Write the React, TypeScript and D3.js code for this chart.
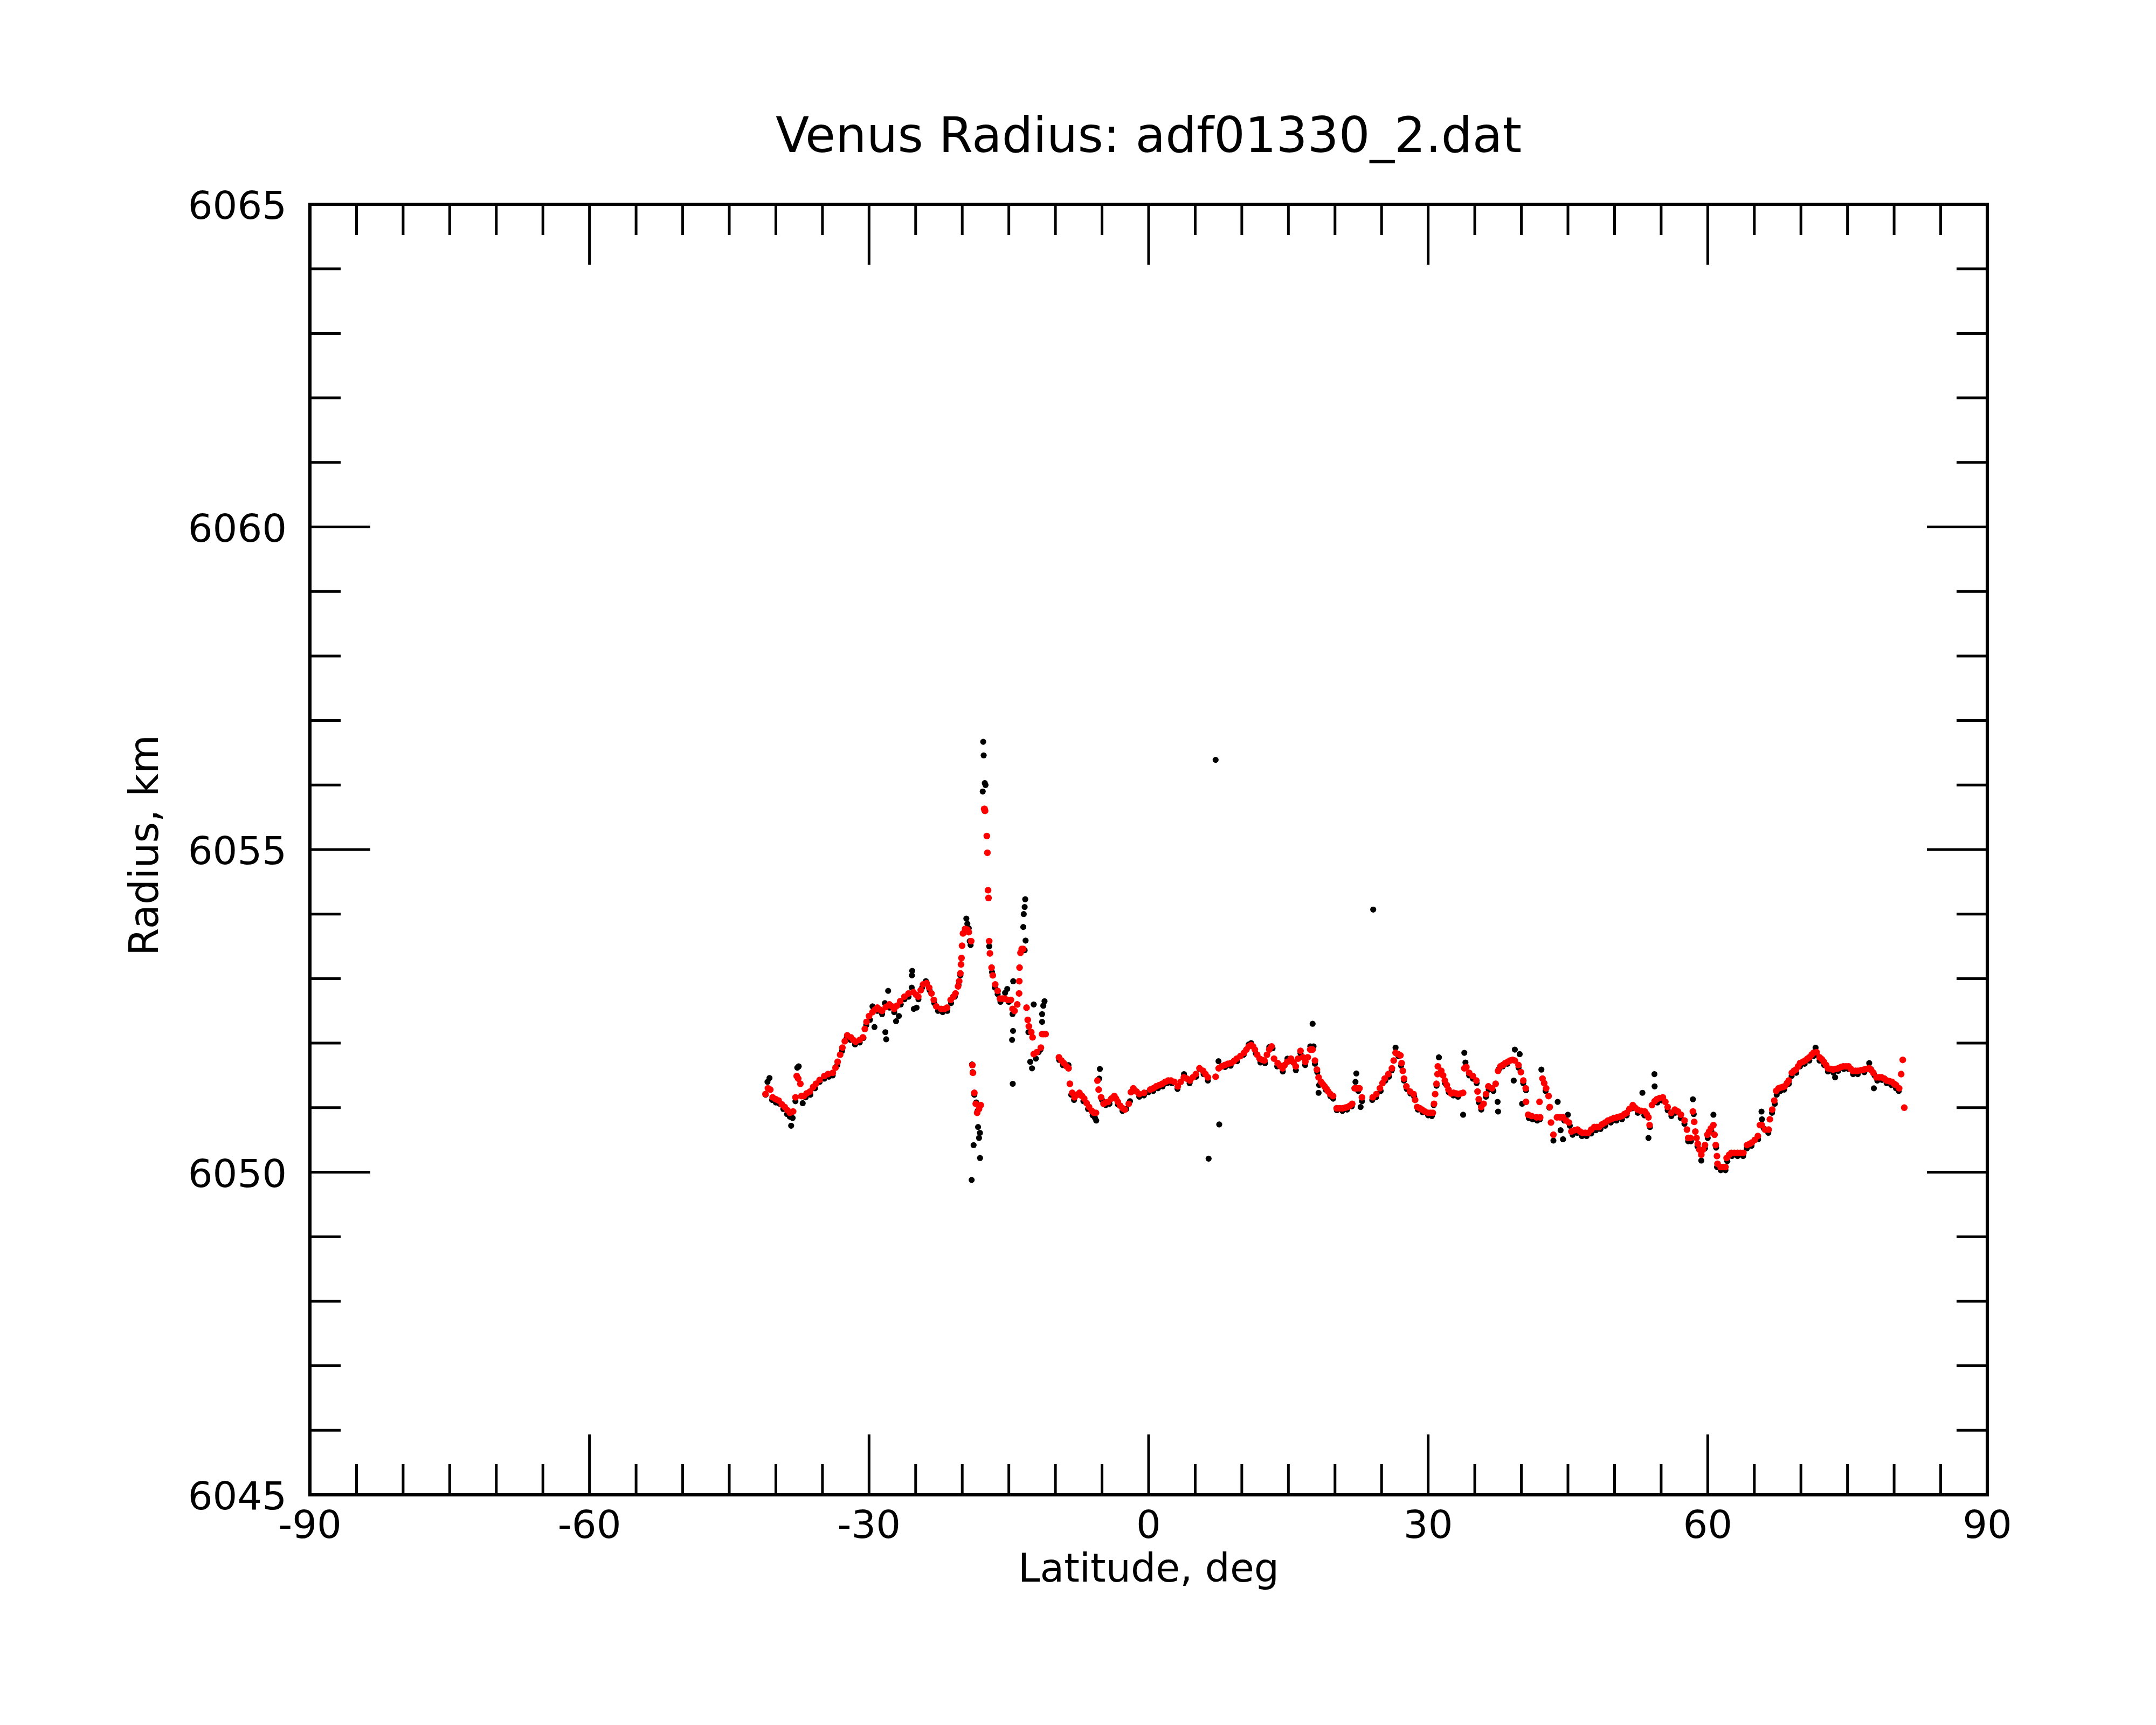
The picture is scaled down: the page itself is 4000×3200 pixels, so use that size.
import React from "react";
import * as d3 from "d3";

// ---- Data ----
const xTickValues = [-90, -60, -30, 0, 30, 60, 90];
const yTickValues = [6045, 6050, 6055, 6060, 6065];
const titleText = "Venus Radius: adf01330_2.dat";
const xLabelText = "Latitude, deg";
const yLabelText = "Radius, km";

// raw samples (black)
const rawLat = [
  -41.1, -40.9, -40.68, -40.4, -40.0, -39.6, -39.2, -38.8, -38.5, -38.36, -38.2, -37.9, -37.7, -37.55, -37.12, -36.8, -36.3, -35.8, -35.3, -34.8,
  -34.3, -33.9, -33.4, -32.9, -32.4, -32.0, -31.5, -31.0, -30.6, -30.3, -29.9, -29.63, -29.42, -29.1, -28.6, -28.3, -28.16, -28.25, -27.95, -27.8,
  -27.3, -27.1, -26.8, -26.6, -26.2, -25.76, -25.37, -25.4, -25.42, -25.2, -24.9, -24.7, -24.3, -23.9, -23.5, -23.0, -22.6, -22.1, -21.6, -21.2,
  -20.8, -20.4, -20.2, -19.9, -19.56, -19.45, -19.3, -19.2, -19.1, -18.95, -18.88, -18.7, -18.5, -18.35, -18.3, -18.1, -18.2, -18.78, -18.09, -18.99,
  -17.8, -17.75, -17.7, -17.58, -17.5, -17.6, -17.1, -16.8, -16.5, -16.2, -15.9, -15.17, -15.4, -15.0, -14.53, -14.6, -14.45, -14.55, -14.65, -14.58,
  -13.24, -13.3, -13.4, -13.45, -13.2, -13.3, -12.33, -11.17, -11.3, -11.43, -11.43, -12.9, -12.7, -12.51, -12.1, -11.8, -11.6, -9.6, -9.2, -8.6,
  -8.3, -8.0, -7.5, -7.0, -6.5, -6.0, -5.75, -5.62, -5.23, -5.3, -5.0, -4.6, -4.2, -3.7, -3.3, -2.8, -2.4, -2.0, -1.6, -1.0,
  -0.5, 0.0, 0.5, 1.0, 1.5, 2.0, 2.5, 3.1, 3.8, 4.4, 5.1, 5.46, 5.9, 6.36, 6.44, 7.19, 7.58, 7.5, 8.2, 8.8,
  9.5, 10.2, 10.75, 11.0, 11.5, 12.0, 12.5, 12.95, 13.3, 13.8, 14.4, 14.9, 15.3, 15.8, 16.3, 16.8, 17.35, 17.6, 17.7, 17.85,
  18.1, 18.24, 18.3, 18.6, 19.0, 19.5, 19.8, 20.2, 20.8, 21.3, 21.8, 22.29, 22.2, 22.5, 22.75, 22.9, 24.1, 24.0, 24.4, 24.9,
  25.4, 25.8, 26.1, 26.5, 26.8, 27.1, 27.4, 27.7, 28.1, 28.5, 28.9, 29.4, 30.0, 30.4, 30.6, 30.9, 31.15, 31.4, 31.8, 32.2,
  32.7, 33.2, 33.75, 33.88, 34.0, 34.4, 34.8, 35.2, 35.45, 35.7, 36.2, 36.5, 37.0, 37.5, 37.45, 37.6, 38.0, 38.5, 39.18, 39.3,
  39.82, 39.7, 40.08, 40.2, 40.5, 40.8, 41.2, 41.7, 42.0, 42.15, 42.6, 43.0, 43.44, 43.9, 44.21, 44.47, 44.99, 44.6, 45.2, 45.5,
  46.0, 46.5, 47.0, 47.5, 48.0, 48.5, 49.0, 49.6, 50.2, 50.8, 51.3, 51.9, 52.5, 52.99, 53.2, 53.64, 53.8, 54.28, 54.3, 54.6,
  55.1, 55.7, 56.1, 56.5, 57.1, 57.5, 57.9, 58.2, 58.41, 58.5, 58.9, 59.31, 59.7, 60.0, 60.4, 60.61, 60.9, 61.0, 61.4, 61.9,
  62.1, 62.6, 63.2, 63.8, 64.2, 64.7, 65.4, 65.77, 65.82, 66.0, 66.5, 66.9, 67.2, 67.4, 67.8, 68.2, 68.7, 69.0, 69.5, 69.9,
  70.4, 70.9, 71.35, 71.57, 71.7, 72.0, 72.5, 72.9, 73.5, 73.67, 74.0, 74.6, 75.1, 75.6, 76.1, 76.8, 77.33, 77.5, 77.83, 77.9,
  78.2, 78.7, 79.2, 79.7, 80.2, 80.5,
];
const rawRadius = [
  6051.20, 6051.40, 6051.46, 6051.12, 6051.08, 6051.06, 6050.98, 6050.90, 6050.86, 6050.72, 6050.84, 6051.10, 6051.62, 6051.64, 6051.07, 6051.16, 6051.20, 6051.30, 6051.40, 6051.45,
  6051.48, 6051.50, 6051.66, 6051.88, 6052.08, 6052.05, 6051.98, 6052.01, 6052.08, 6052.28, 6052.36, 6052.57, 6052.25, 6052.50, 6052.45, 6052.62, 6052.06, 6052.17, 6052.81, 6052.55,
  6052.48, 6052.34, 6052.42, 6052.60, 6052.68, 6052.72, 6053.12, 6053.05, 6052.86, 6052.53, 6052.55, 6052.68, 6052.86, 6052.96, 6052.82, 6052.62, 6052.50, 6052.48, 6052.50, 6052.62,
  6052.72, 6052.90, 6053.05, 6053.70, 6053.93, 6053.85, 6053.78, 6053.58, 6053.52, 6051.67, 6051.55, 6051.20, 6051.08, 6050.95, 6050.70, 6050.61, 6050.53, 6050.42, 6050.22, 6049.88,
  6055.90, 6056.67, 6056.46, 6056.03, 6056.00, 6055.60, 6053.50, 6053.10, 6052.86, 6052.76, 6052.64, 6052.84, 6052.78, 6052.64, 6052.96, 6052.45, 6052.50, 6052.19, 6052.05, 6051.37,
  6054.23, 6054.11, 6054.00, 6053.80, 6053.59, 6053.44, 6052.60, 6052.65, 6052.58, 6052.45, 6052.33, 6052.17, 6051.71, 6051.61, 6051.76, 6051.86, 6051.90, 6051.74, 6051.66, 6051.66,
  6051.20, 6051.12, 6051.20, 6051.10, 6050.98, 6050.88, 6050.84, 6050.80, 6051.60, 6051.45, 6051.12, 6051.04, 6051.06, 6051.15, 6051.05, 6050.95, 6050.98, 6051.10, 6051.26, 6051.17,
  6051.19, 6051.24, 6051.26, 6051.30, 6051.33, 6051.38, 6051.38, 6051.29, 6051.52, 6051.38, 6051.48, 6051.60, 6051.52, 6051.42, 6050.21, 6056.39, 6050.74, 6051.72, 6051.63, 6051.65,
  6051.72, 6051.82, 6051.98, 6052.00, 6051.84, 6051.70, 6051.69, 6051.94, 6051.92, 6051.64, 6051.56, 6051.76, 6051.72, 6051.58, 6051.84, 6051.66, 6051.95, 6052.30, 6051.95, 6051.68,
  6051.55, 6051.23, 6051.35, 6051.38, 6051.28, 6051.18, 6051.14, 6050.96, 6050.95, 6050.97, 6051.02, 6051.53, 6051.40, 6051.26, 6051.01, 6051.10, 6054.07, 6051.12, 6051.16, 6051.26,
  6051.42, 6051.48, 6051.58, 6051.93, 6051.80, 6051.65, 6051.42, 6051.29, 6051.22, 6051.17, 6050.97, 6050.93, 6050.88, 6050.87, 6051.04, 6051.34, 6051.78, 6051.53, 6051.38, 6051.24,
  6051.19, 6051.17, 6050.89, 6051.85, 6051.70, 6051.50, 6051.45, 6051.38, 6051.08, 6050.97, 6051.17, 6051.28, 6051.26, 6050.94, 6051.09, 6051.60, 6051.64, 6051.68, 6051.42, 6051.90,
  6051.83, 6051.62, 6051.06, 6051.38, 6051.27, 6050.84, 6050.82, 6050.80, 6050.82, 6051.59, 6051.26, 6051.00, 6050.49, 6051.09, 6050.65, 6050.51, 6050.89, 6050.80, 6050.72, 6050.58,
  6050.61, 6050.56, 6050.56, 6050.60, 6050.65, 6050.67, 6050.72, 6050.77, 6050.80, 6050.82, 6050.88, 6050.99, 6050.92, 6051.23, 6050.88, 6050.53, 6050.70, 6051.52, 6051.33, 6051.08,
  6051.11, 6050.96, 6050.87, 6050.92, 6050.84, 6050.75, 6050.48, 6050.48, 6051.13, 6050.90, 6050.40, 6050.18, 6050.37, 6050.53, 6050.63, 6050.89, 6050.38, 6050.08, 6050.03, 6050.03,
  6050.17, 6050.25, 6050.25, 6050.25, 6050.37, 6050.41, 6050.51, 6050.94, 6050.82, 6050.68, 6050.61, 6050.92, 6051.06, 6051.20, 6051.26, 6051.28, 6051.37, 6051.49, 6051.54, 6051.64,
  6051.68, 6051.73, 6051.80, 6051.93, 6051.82, 6051.73, 6051.66, 6051.56, 6051.54, 6051.47, 6051.57, 6051.60, 6051.60, 6051.52, 6051.52, 6051.55, 6051.69, 6051.60, 6051.30, 6051.50,
  6051.42, 6051.43, 6051.38, 6051.35, 6051.30, 6051.26,
];

// filtered samples (red)
const fitLat = [
  -41.12, -40.85, -40.6, -40.35, -40.0, -39.7, -39.35, -39.05, -38.75, -38.5, -38.15, -37.89, -37.76, -37.6, -37.37, -37.25, -37.0, -36.7, -36.34, -36.0,
  -35.7, -35.3, -34.8, -34.4, -33.89, -33.6, -33.37, -33.1, -32.86, -32.6, -32.34, -31.95, -31.7, -31.44, -31.0, -30.66, -30.45, -30.27, -30.0, -29.63,
  -29.35, -29.11, -28.85, -28.6, -28.2, -27.82, -27.55, -27.3, -27.0, -26.66, -26.2, -25.76, -25.24, -24.95, -24.72, -24.45, -24.2, -23.82, -23.55, -23.3,
  -23.05, -22.79, -22.27, -21.9, -21.63, -21.24, -20.95, -20.72, -20.45, -20.33, -20.2, -20.13, -20.08, -20.02, -19.92, -19.69, -19.45, -19.3, -19.04, -18.91,
  -18.85, -18.7, -18.55, -18.4, -18.2, -18.01, -17.65, -17.6, -17.55, -17.36, -17.3, -17.23, -17.18, -17.11, -17.03, -16.85, -16.72, -16.46, -16.2, -15.95,
  -15.7, -15.43, -15.1, -14.78, -14.6, -14.39, -14.1, -13.9, -13.88, -13.85, -13.75, -13.62, -13.45, -13.1, -12.97, -12.85, -12.59, -12.45, -12.33, -12.0,
  -11.56, -11.43, -11.25, -11.05, -9.62, -9.35, -9.1, -8.8, -8.59, -8.45, -8.2, -7.95, -7.7, -7.42, -7.15, -6.91, -6.65, -6.39, -6.1, -5.87,
  -5.65, -5.49, -5.36, -5.1, -4.84, -4.6, -4.33, -4.0, -3.68, -3.5, -3.3, -3.05, -2.78, -2.55, -2.13, -1.9, -1.64, -1.3, -1.0, -0.48,
  0.17, 0.5, 0.81, 1.15, 1.46, 1.8, 2.1, 2.4, 2.75, 3.13, 3.45, 3.78, 4.1, 4.43, 4.75, 5.07, 5.46, 5.85, 6.1, 6.36,
  7.19, 7.52, 7.85, 8.17, 8.5, 8.82, 9.15, 9.46, 9.85, 10.24, 10.5, 10.75, 11.01, 11.2, 11.4, 11.65, 11.91, 12.2, 12.43, 12.7,
  12.95, 13.2, 13.46, 13.85, 14.1, 14.37, 14.6, 14.88, 15.27, 15.55, 15.79, 16.04, 16.3, 16.56, 16.82, 17.08, 17.34, 17.6, 17.85, 18.06,
  18.24, 18.5, 18.7, 18.89, 19.1, 19.27, 19.5, 19.79, 20.18, 20.5, 20.82, 21.1, 21.34, 21.6, 21.85, 22.11, 22.35, 22.63, 22.89, 24.05,
  24.44, 24.82, 25.1, 25.34, 25.73, 26.11, 26.3, 26.5, 26.76, 27.02, 27.15, 27.28, 27.41, 27.66, 28.05, 28.44, 28.6, 28.82, 29.1, 29.34,
  29.65, 29.99, 30.25, 30.5, 30.63, 30.75, 30.89, 31.0, 31.04, 31.41, 31.6, 31.79, 32.0, 32.18, 32.45, 32.72, 33.0, 33.24, 33.5, 33.75,
  33.88, 34.1, 34.4, 34.79, 35.17, 35.3, 35.43, 35.69, 35.95, 36.21, 36.46, 36.85, 37.24, 37.5, 37.75, 38.0, 38.27, 38.55, 38.79, 39.05,
  39.3, 39.69, 39.95, 40.21, 40.47, 40.5, 40.73, 41.11, 41.63, 42.02, 41.95, 42.27, 42.45, 42.66, 42.92, 43.05, 43.18, 43.44, 43.82, 44.15,
  44.47, 44.8, 45.11, 45.37, 45.7, 46.02, 46.3, 46.53, 46.85, 47.18, 47.5, 47.83, 48.1, 48.34, 48.65, 48.99, 49.3, 49.63, 49.95, 50.28,
  50.55, 50.79, 51.05, 51.31, 51.6, 51.96, 52.2, 52.47, 52.85, 53.25, 53.45, 53.64, 53.76, 54.02, 54.3, 54.54, 54.85, 55.18, 55.45, 55.7,
  56.09, 56.47, 56.8, 57.12, 57.51, 57.77, 57.9, 58.15, 58.41, 58.55, 58.67, 58.8, 58.93, 59.1, 59.31, 59.5, 59.7, 59.96, 60.15, 60.35,
  60.61, 60.73, 60.86, 60.99, 61.05, 61.38, 61.65, 61.9, 62.03, 62.3, 62.54, 62.85, 63.19, 63.5, 63.83, 64.22, 64.5, 64.74, 65.05, 65.38,
  65.6, 65.8, 66.15, 66.54, 66.67, 66.92, 67.14, 67.35, 67.6, 67.81, 68.05, 68.25, 68.5, 68.69, 69.03, 69.25, 69.47, 69.7, 69.91, 70.2,
  70.46, 70.7, 70.91, 71.15, 71.35, 71.68, 72.01, 72.25, 72.46, 72.7, 72.9, 73.2, 73.45, 73.75, 74.01, 74.3, 74.56, 74.85, 75.11, 75.35,
  75.56, 75.85, 76.11, 76.45, 76.77, 77.05, 77.33, 77.55, 77.77, 78.1, 78.4, 78.65, 78.95, 79.21, 79.5, 79.76, 80.0, 80.2, 80.54, 80.76,
  80.93, 81.09,
];
const fitRadius = [
  6051.21, 6051.30, 6051.28, 6051.16, 6051.13, 6051.11, 6051.05, 6051.01, 6050.96, 6050.92, 6050.94, 6051.16, 6051.49, 6051.45, 6051.37, 6051.18, 6051.18, 6051.22, 6051.25, 6051.32,
  6051.37, 6051.43, 6051.49, 6051.52, 6051.54, 6051.62, 6051.71, 6051.82, 6051.93, 6052.03, 6052.12, 6052.09, 6052.05, 6052.02, 6052.05, 6052.09, 6052.22, 6052.33, 6052.42, 6052.48,
  6052.52, 6052.55, 6052.52, 6052.50, 6052.56, 6052.60, 6052.57, 6052.53, 6052.58, 6052.65, 6052.72, 6052.77, 6052.79, 6052.75, 6052.72, 6052.82, 6052.91, 6052.93, 6052.86, 6052.77,
  6052.67, 6052.57, 6052.53, 6052.53, 6052.55, 6052.67, 6052.72, 6052.77, 6052.88, 6052.96, 6053.08, 6053.22, 6053.32, 6053.51, 6053.70, 6053.77, 6053.76, 6053.72, 6053.58, 6051.66,
  6051.54, 6051.23, 6051.06, 6050.92, 6050.98, 6051.04, 6055.63, 6055.63, 6055.60, 6055.21, 6054.95, 6054.37, 6054.25, 6053.58, 6053.39, 6053.17, 6053.05, 6052.91, 6052.81, 6052.69,
  6052.69, 6052.69, 6052.67, 6052.67, 6052.53, 6052.50, 6052.60, 6052.77, 6052.96, 6053.17, 6053.40, 6053.46, 6053.46, 6052.55, 6052.36, 6052.26, 6052.17, 6052.09, 6051.83, 6051.86,
  6051.93, 6052.14, 6052.14, 6052.14, 6051.78, 6051.73, 6051.69, 6051.64, 6051.61, 6051.37, 6051.23, 6051.16, 6051.20, 6051.23, 6051.18, 6051.14, 6051.07, 6051.01, 6050.95, 6050.92,
  6050.92, 6051.42, 6051.28, 6051.16, 6051.06, 6051.08, 6051.09, 6051.14, 6051.18, 6051.14, 6051.09, 6051.03, 6050.99, 6050.97, 6051.06, 6051.24, 6051.30, 6051.25, 6051.21, 6051.23,
  6051.28, 6051.30, 6051.33, 6051.35, 6051.37, 6051.40, 6051.42, 6051.42, 6051.40, 6051.33, 6051.40, 6051.47, 6051.45, 6051.42, 6051.47, 6051.52, 6051.61, 6051.57, 6051.52, 6051.47,
  6051.48, 6051.61, 6051.64, 6051.66, 6051.68, 6051.69, 6051.72, 6051.76, 6051.80, 6051.85, 6051.90, 6051.95, 6051.97, 6051.95, 6051.90, 6051.82, 6051.76, 6051.74, 6051.73, 6051.82,
  6051.90, 6051.95, 6051.76, 6051.69, 6051.65, 6051.61, 6051.66, 6051.71, 6051.76, 6051.70, 6051.64, 6051.76, 6051.88, 6051.78, 6051.71, 6051.78, 6051.90, 6051.90, 6051.73, 6051.59,
  6051.47, 6051.40, 6051.36, 6051.33, 6051.29, 6051.25, 6051.21, 6051.18, 6050.99, 6050.99, 6050.99, 6051.00, 6051.01, 6051.03, 6051.06, 6051.30, 6051.30, 6051.30, 6051.16, 6051.16,
  6051.21, 6051.30, 6051.38, 6051.45, 6051.52, 6051.61, 6051.73, 6051.85, 6051.83, 6051.81, 6051.69, 6051.57, 6051.45, 6051.33, 6051.25, 6051.21, 6051.12, 6051.01, 6050.99, 6050.97,
  6050.94, 6050.92, 6050.92, 6050.92, 6051.06, 6051.21, 6051.37, 6051.52, 6051.64, 6051.57, 6051.50, 6051.42, 6051.35, 6051.28, 6051.22, 6051.23, 6051.22, 6051.21, 6051.22, 6051.23,
  6051.61, 6051.63, 6051.54, 6051.49, 6051.42, 6051.25, 6051.13, 6051.01, 6051.06, 6051.21, 6051.33, 6051.30, 6051.37, 6051.57, 6051.64, 6051.66, 6051.69, 6051.71, 6051.73, 6051.74,
  6051.73, 6051.66, 6051.55, 6051.42, 6051.30, 6051.09, 6050.89, 6050.87, 6050.85, 6050.85, 6051.09, 6051.45, 6051.38, 6051.30, 6051.18, 6051.01, 6050.77, 6050.58, 6050.85, 6050.85,
  6050.85, 6050.80, 6050.77, 6050.63, 6050.65, 6050.66, 6050.63, 6050.61, 6050.61, 6050.61, 6050.66, 6050.70, 6050.70, 6050.70, 6050.74, 6050.77, 6050.80, 6050.82, 6050.84, 6050.85,
  6050.86, 6050.87, 6050.90, 6050.92, 6050.98, 6051.04, 6051.00, 6050.97, 6050.95, 6050.94, 6050.90, 6050.85, 6050.73, 6051.04, 6051.10, 6051.13, 6051.15, 6051.16, 6051.09, 6051.01,
  6050.92, 6050.97, 6050.94, 6050.89, 6050.80, 6050.66, 6050.53, 6050.53, 6050.94, 6050.78, 6050.63, 6050.53, 6050.44, 6050.35, 6050.27, 6050.35, 6050.42, 6050.58, 6050.63, 6050.68,
  6050.73, 6050.58, 6050.42, 6050.25, 6050.13, 6050.08, 6050.08, 6050.08, 6050.22, 6050.27, 6050.30, 6050.30, 6050.30, 6050.30, 6050.30, 6050.42, 6050.44, 6050.46, 6050.50, 6050.56,
  6050.73, 6050.73, 6050.66, 6050.66, 6050.82, 6050.97, 6051.11, 6051.26, 6051.30, 6051.31, 6051.32, 6051.33, 6051.38, 6051.42, 6051.54, 6051.57, 6051.59, 6051.64, 6051.69, 6051.71,
  6051.73, 6051.76, 6051.78, 6051.82, 6051.85, 6051.86, 6051.78, 6051.75, 6051.71, 6051.66, 6051.61, 6051.60, 6051.59, 6051.60, 6051.61, 6051.63, 6051.64, 6051.64, 6051.64, 6051.60,
  6051.57, 6051.57, 6051.57, 6051.58, 6051.59, 6051.60, 6051.61, 6051.58, 6051.54, 6051.47, 6051.47, 6051.47, 6051.45, 6051.42, 6051.41, 6051.40, 6051.37, 6051.35, 6051.30, 6051.52,
  6051.74, 6051.00,
];

// ---- Layout ----
const W = 4000;
const H = 3200;
const left = 575;
const right = 3687;
const top = 379;
const bottom = 2773;
const FONT = "DejaVu Sans, Verdana, sans-serif";

export default function App() {
  const x = d3.scaleLinear().domain([-90, 90]).range([left, right]);
  const y = d3.scaleLinear().domain([6045, 6065]).range([bottom, top]);

  const xMinor = d3.range(-90, 90.001, 5).filter((v) => !xTickValues.includes(v));
  const yMinor = d3.range(6045, 6065.001, 1).filter((v) => !yTickValues.includes(v));
  const majorLen = 112;
  const minorLen = 57;
  const tickW = 5;

  const raw = rawLat.map((la, i) => [la, rawRadius[i]] as [number, number]);
  const fit = fitLat.map((la, i) => [la, fitRadius[i]] as [number, number]);

  return (
    <svg
      width={W}
      height={H}
      viewBox={`0 0 ${W} ${H}`}
      style={{ position: "absolute", left: 0, top: 0, background: "#fff" }}
    >
      <rect x={0} y={0} width={W} height={H} fill="#fff" />
      <text x={(left + right) / 2} y={282} fontFamily={FONT} fontSize={91} textAnchor="middle" fill="#000">
        {titleText}
      </text>

      {/* data */}
      <g>
        {raw.map(([la, r], i) => (
          <circle key={"k" + i} cx={x(la)} cy={y(r)} r={5.6} fill="#000" />
        ))}
      </g>
      <g>
        {fit.map(([la, r], i) => (
          <circle key={"r" + i} cx={x(la)} cy={y(r)} r={6.2} fill="#ff0000" />
        ))}
      </g>

      {/* ticks */}
      <g stroke="#000" strokeWidth={tickW}>
        {xTickValues.map((v) => (
          <g key={"xM" + v}>
            <line x1={x(v)} x2={x(v)} y1={bottom} y2={bottom - majorLen} />
            <line x1={x(v)} x2={x(v)} y1={top} y2={top + majorLen} />
          </g>
        ))}
        {xMinor.map((v) => (
          <g key={"xm" + v}>
            <line x1={x(v)} x2={x(v)} y1={bottom} y2={bottom - minorLen} />
            <line x1={x(v)} x2={x(v)} y1={top} y2={top + minorLen} />
          </g>
        ))}
        {yTickValues.map((v) => (
          <g key={"yM" + v}>
            <line x1={left} x2={left + majorLen} y1={y(v)} y2={y(v)} />
            <line x1={right} x2={right - majorLen} y1={y(v)} y2={y(v)} />
          </g>
        ))}
        {yMinor.map((v) => (
          <g key={"ym" + v}>
            <line x1={left} x2={left + minorLen} y1={y(v)} y2={y(v)} />
            <line x1={right} x2={right - minorLen} y1={y(v)} y2={y(v)} />
          </g>
        ))}
      </g>

      {/* frame */}
      <rect x={left} y={top} width={right - left} height={bottom - top} fill="none" stroke="#000" strokeWidth={6} />

      {/* tick labels */}
      <g fontFamily={FONT} fontSize={72} fill="#000">
        {xTickValues.map((v) => (
          <text key={"xl" + v} x={x(v)} y={bottom + 80} textAnchor="middle">
            {String(v)}
          </text>
        ))}
        {yTickValues.map((v) => (
          <text key={"yl" + v} x={532} y={y(v) + 27} textAnchor="end">
            {String(v)}
          </text>
        ))}
      </g>

      <text x={(left + right) / 2} y={2934} fontFamily={FONT} fontSize={73} textAnchor="middle" fill="#000">
        {xLabelText}
      </text>
      <text
        transform={`translate(293, ${(top + bottom) / 2 - 8}) rotate(-90)`}
        fontFamily={FONT}
        fontSize={74}
        textAnchor="middle"
        fill="#000"
      >
        {yLabelText}
      </text>
    </svg>
  );
}
